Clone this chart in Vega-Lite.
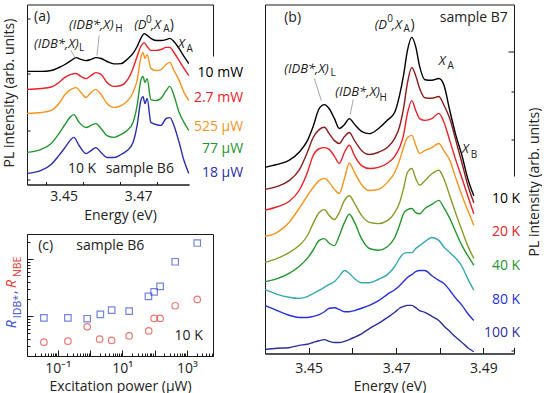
{
"$schema":"https://vega.github.io/schema/vega-lite/v6.json",
"autosize":{"type":"pad"},
"padding":{"left":1,"top":3.5,"right":0,"bottom":0},
"background":"white",
"config":{
 "font":"Open Sans",
 "view":{"stroke":"#1a1a1a","strokeWidth":1},
 "axis":{"grid":false,"domainColor":"#1a1a1a","tickColor":"#1a1a1a","domainWidth":1,"tickWidth":1,"labelFont":"Open Sans","labelFontSize":14,"labelColor":"#222","titleFont":"Open Sans","titleFontSize":14,"titleFontWeight":"normal","titleColor":"#222","labelOverlap":false,"labelFlush":false},
 "text":{"font":"Open Sans","fontSize":14,"color":"#222"}
},
"datasets":{
"aCurves":[
{"P":"10 mW","E":3.44,"I":3.77},{"P":"10 mW","E":3.4438,"I":3.77},{"P":"10 mW","E":3.4465,"I":3.8},{"P":"10 mW","E":3.4486,"I":3.9},{"P":"10 mW","E":3.4502,"I":4.0},{"P":"10 mW","E":3.4518,"I":4.13},{"P":"10 mW","E":3.4532,"I":4.23},{"P":"10 mW","E":3.4545,"I":4.17},{"P":"10 mW","E":3.4559,"I":4.13},{"P":"10 mW","E":3.4572,"I":4.17},{"P":"10 mW","E":3.4585,"I":4.23},{"P":"10 mW","E":3.4599,"I":4.2},{"P":"10 mW","E":3.4615,"I":4.1},{"P":"10 mW","E":3.4634,"I":4.02},{"P":"10 mW","E":3.4653,"I":4.03},{"P":"10 mW","E":3.4669,"I":4.17},{"P":"10 mW","E":3.4685,"I":4.37},{"P":"10 mW","E":3.4696,"I":4.6},{"P":"10 mW","E":3.4706,"I":4.87},{"P":"10 mW","E":3.4715,"I":5.03},{"P":"10 mW","E":3.4723,"I":4.97},{"P":"10 mW","E":3.4733,"I":4.87},{"P":"10 mW","E":3.4747,"I":4.8},{"P":"10 mW","E":3.476,"I":4.8},{"P":"10 mW","E":3.4774,"I":4.83},{"P":"10 mW","E":3.4784,"I":4.87},{"P":"10 mW","E":3.4795,"I":4.77},{"P":"10 mW","E":3.4809,"I":4.53},{"P":"10 mW","E":3.4822,"I":4.27},{"P":"10 mW","E":3.4835,"I":4.03},
{"P":"2.7 mW","E":3.44,"I":3.17},{"P":"2.7 mW","E":3.4438,"I":3.2},{"P":"2.7 mW","E":3.4465,"I":3.25},{"P":"2.7 mW","E":3.4486,"I":3.4},{"P":"2.7 mW","E":3.4502,"I":3.57},{"P":"2.7 mW","E":3.4518,"I":3.67},{"P":"2.7 mW","E":3.4532,"I":3.7},{"P":"2.7 mW","E":3.4545,"I":3.6},{"P":"2.7 mW","E":3.4559,"I":3.53},{"P":"2.7 mW","E":3.4572,"I":3.63},{"P":"2.7 mW","E":3.4585,"I":3.73},{"P":"2.7 mW","E":3.4599,"I":3.67},{"P":"2.7 mW","E":3.4615,"I":3.4},{"P":"2.7 mW","E":3.4634,"I":3.27},{"P":"2.7 mW","E":3.4653,"I":3.3},{"P":"2.7 mW","E":3.4669,"I":3.47},{"P":"2.7 mW","E":3.4685,"I":3.87},{"P":"2.7 mW","E":3.4696,"I":4.27},{"P":"2.7 mW","E":3.4706,"I":4.6},{"P":"2.7 mW","E":3.4715,"I":4.73},{"P":"2.7 mW","E":3.4723,"I":4.6},{"P":"2.7 mW","E":3.4733,"I":4.47},{"P":"2.7 mW","E":3.4747,"I":4.47},{"P":"2.7 mW","E":3.476,"I":4.5},{"P":"2.7 mW","E":3.4774,"I":4.57},{"P":"2.7 mW","E":3.4784,"I":4.57},{"P":"2.7 mW","E":3.4795,"I":4.4},{"P":"2.7 mW","E":3.4809,"I":4.13},{"P":"2.7 mW","E":3.4822,"I":3.87},{"P":"2.7 mW","E":3.4835,"I":3.63},
{"P":"525 µW","E":3.44,"I":2.37},{"P":"525 µW","E":3.4438,"I":2.4},{"P":"525 µW","E":3.4465,"I":2.47},{"P":"525 µW","E":3.4486,"I":2.7},{"P":"525 µW","E":3.4502,"I":3.0},{"P":"525 µW","E":3.4518,"I":3.17},{"P":"525 µW","E":3.4532,"I":3.23},{"P":"525 µW","E":3.4545,"I":3.07},{"P":"525 µW","E":3.4559,"I":2.9},{"P":"525 µW","E":3.4572,"I":3.07},{"P":"525 µW","E":3.4585,"I":3.17},{"P":"525 µW","E":3.4599,"I":3.0},{"P":"525 µW","E":3.4615,"I":2.7},{"P":"525 µW","E":3.4634,"I":2.57},{"P":"525 µW","E":3.4653,"I":2.63},{"P":"525 µW","E":3.4669,"I":2.77},{"P":"525 µW","E":3.4685,"I":3.07},{"P":"525 µW","E":3.4696,"I":3.47},{"P":"525 µW","E":3.4706,"I":4.23},{"P":"525 µW","E":3.4712,"I":4.4},{"P":"525 µW","E":3.4717,"I":4.2},{"P":"525 µW","E":3.4723,"I":4.33},{"P":"525 µW","E":3.4733,"I":3.87},{"P":"525 µW","E":3.4747,"I":3.8},{"P":"525 µW","E":3.476,"I":3.83},{"P":"525 µW","E":3.4774,"I":4.0},{"P":"525 µW","E":3.4784,"I":4.07},{"P":"525 µW","E":3.4795,"I":3.8},{"P":"525 µW","E":3.4809,"I":3.47},{"P":"525 µW","E":3.4822,"I":3.07},{"P":"525 µW","E":3.4835,"I":2.8},
{"P":"77 µW","E":3.44,"I":1.07},{"P":"77 µW","E":3.4438,"I":1.17},{"P":"77 µW","E":3.4465,"I":1.37},{"P":"77 µW","E":3.4486,"I":1.7},{"P":"77 µW","E":3.4502,"I":2.0},{"P":"77 µW","E":3.4518,"I":2.27},{"P":"77 µW","E":3.4526,"I":2.33},{"P":"77 µW","E":3.454,"I":2.07},{"P":"77 µW","E":3.4559,"I":1.9},{"P":"77 µW","E":3.4572,"I":1.97},{"P":"77 µW","E":3.4585,"I":2.03},{"P":"77 µW","E":3.4599,"I":1.87},{"P":"77 µW","E":3.4615,"I":1.63},{"P":"77 µW","E":3.4634,"I":1.57},{"P":"77 µW","E":3.4653,"I":1.67},{"P":"77 µW","E":3.4669,"I":1.8},{"P":"77 µW","E":3.4685,"I":2.07},{"P":"77 µW","E":3.4696,"I":2.63},{"P":"77 µW","E":3.4706,"I":3.47},{"P":"77 µW","E":3.4712,"I":3.6},{"P":"77 µW","E":3.4717,"I":3.4},{"P":"77 µW","E":3.4723,"I":3.53},{"P":"77 µW","E":3.4733,"I":2.83},{"P":"77 µW","E":3.4747,"I":2.8},{"P":"77 µW","E":3.476,"I":2.87},{"P":"77 µW","E":3.4774,"I":3.13},{"P":"77 µW","E":3.4784,"I":3.27},{"P":"77 µW","E":3.4795,"I":2.97},{"P":"77 µW","E":3.4809,"I":2.4},{"P":"77 µW","E":3.4822,"I":2.07},{"P":"77 µW","E":3.4835,"I":1.8},
{"P":"18 µW","E":3.44,"I":0.37},{"P":"18 µW","E":3.4438,"I":0.47},{"P":"18 µW","E":3.4465,"I":0.67},{"P":"18 µW","E":3.4486,"I":0.97},{"P":"18 µW","E":3.4502,"I":1.23},{"P":"18 µW","E":3.4518,"I":1.5},{"P":"18 µW","E":3.4526,"I":1.57},{"P":"18 µW","E":3.454,"I":1.3},{"P":"18 µW","E":3.4559,"I":1.03},{"P":"18 µW","E":3.4572,"I":1.13},{"P":"18 µW","E":3.4585,"I":1.23},{"P":"18 µW","E":3.4599,"I":1.07},{"P":"18 µW","E":3.4615,"I":0.9},{"P":"18 µW","E":3.4634,"I":0.9},{"P":"18 µW","E":3.4653,"I":1.0},{"P":"18 µW","E":3.4669,"I":1.13},{"P":"18 µW","E":3.4685,"I":1.4},{"P":"18 µW","E":3.4696,"I":1.97},{"P":"18 µW","E":3.4706,"I":2.8},{"P":"18 µW","E":3.4712,"I":2.93},{"P":"18 µW","E":3.4717,"I":2.7},{"P":"18 µW","E":3.4723,"I":2.87},{"P":"18 µW","E":3.4733,"I":2.07},{"P":"18 µW","E":3.4747,"I":2.0},{"P":"18 µW","E":3.476,"I":1.97},{"P":"18 µW","E":3.4774,"I":2.2},{"P":"18 µW","E":3.4784,"I":2.23},{"P":"18 µW","E":3.4795,"I":1.97},{"P":"18 µW","E":3.4809,"I":1.4},{"P":"18 µW","E":3.4822,"I":0.8},{"P":"18 µW","E":3.4835,"I":0.37}
],
"bCurves":[
{"T":"10 K","E":3.44,"I":3.21},{"T":"10 K","E":3.4428,"I":3.26},{"T":"10 K","E":3.4455,"I":3.33},{"T":"10 K","E":3.4478,"I":3.47},{"T":"10 K","E":3.4497,"I":3.67},{"T":"10 K","E":3.451,"I":3.91},{"T":"10 K","E":3.4524,"I":4.22},{"T":"10 K","E":3.4536,"I":4.29},{"T":"10 K","E":3.4547,"I":4.22},{"T":"10 K","E":3.4559,"I":4.05},{"T":"10 K","E":3.457,"I":3.88},{"T":"10 K","E":3.4582,"I":3.95},{"T":"10 K","E":3.4593,"I":4.05},{"T":"10 K","E":3.4605,"I":3.95},{"T":"10 K","E":3.4621,"I":3.83},{"T":"10 K","E":3.4639,"I":3.79},{"T":"10 K","E":3.466,"I":3.88},{"T":"10 K","E":3.468,"I":4.02},{"T":"10 K","E":3.4697,"I":4.16},{"T":"10 K","E":3.4708,"I":4.45},{"T":"10 K","E":3.4717,"I":4.79},{"T":"10 K","E":3.4726,"I":5.22},{"T":"10 K","E":3.4736,"I":5.45},{"T":"10 K","E":3.4745,"I":5.29},{"T":"10 K","E":3.4754,"I":4.95},{"T":"10 K","E":3.4766,"I":4.72},{"T":"10 K","E":3.4782,"I":4.71},{"T":"10 K","E":3.4798,"I":4.74},{"T":"10 K","E":3.4809,"I":4.64},{"T":"10 K","E":3.4823,"I":4.19},{"T":"10 K","E":3.4837,"I":3.76},{"T":"10 K","E":3.4851,"I":3.41},{"T":"10 K","E":3.4864,"I":3.02},{"T":"10 K","E":3.4878,"I":2.72},
{"T":"15 K","E":3.44,"I":2.83},{"T":"15 K","E":3.4428,"I":2.88},{"T":"15 K","E":3.4455,"I":2.98},{"T":"15 K","E":3.4478,"I":3.16},{"T":"15 K","E":3.4497,"I":3.47},{"T":"15 K","E":3.451,"I":3.72},{"T":"15 K","E":3.4524,"I":3.86},{"T":"15 K","E":3.4536,"I":3.9},{"T":"15 K","E":3.4547,"I":3.79},{"T":"15 K","E":3.4559,"I":3.67},{"T":"15 K","E":3.457,"I":3.62},{"T":"15 K","E":3.4582,"I":3.74},{"T":"15 K","E":3.4593,"I":3.81},{"T":"15 K","E":3.4605,"I":3.67},{"T":"15 K","E":3.4621,"I":3.5},{"T":"15 K","E":3.4639,"I":3.43},{"T":"15 K","E":3.466,"I":3.47},{"T":"15 K","E":3.468,"I":3.55},{"T":"15 K","E":3.4697,"I":3.71},{"T":"15 K","E":3.4708,"I":3.91},{"T":"15 K","E":3.4717,"I":4.22},{"T":"15 K","E":3.4726,"I":4.66},{"T":"15 K","E":3.4736,"I":4.93},{"T":"15 K","E":3.4745,"I":4.79},{"T":"15 K","E":3.4754,"I":4.57},{"T":"15 K","E":3.4766,"I":4.41},{"T":"15 K","E":3.4782,"I":4.4},{"T":"15 K","E":3.4798,"I":4.43},{"T":"15 K","E":3.4809,"I":4.29},{"T":"15 K","E":3.4823,"I":4.05},{"T":"15 K","E":3.4837,"I":3.67},{"T":"15 K","E":3.4851,"I":3.28},{"T":"15 K","E":3.4864,"I":2.91},{"T":"15 K","E":3.4878,"I":2.6},
{"T":"20 K","E":3.44,"I":2.47},{"T":"20 K","E":3.4428,"I":2.53},{"T":"20 K","E":3.4455,"I":2.62},{"T":"20 K","E":3.4478,"I":2.81},{"T":"20 K","E":3.4497,"I":3.12},{"T":"20 K","E":3.451,"I":3.41},{"T":"20 K","E":3.4524,"I":3.53},{"T":"20 K","E":3.4536,"I":3.55},{"T":"20 K","E":3.4547,"I":3.52},{"T":"20 K","E":3.4559,"I":3.4},{"T":"20 K","E":3.457,"I":3.28},{"T":"20 K","E":3.4582,"I":3.47},{"T":"20 K","E":3.4593,"I":3.59},{"T":"20 K","E":3.4605,"I":3.41},{"T":"20 K","E":3.4621,"I":3.24},{"T":"20 K","E":3.4639,"I":3.19},{"T":"20 K","E":3.466,"I":3.21},{"T":"20 K","E":3.468,"I":3.28},{"T":"20 K","E":3.4697,"I":3.4},{"T":"20 K","E":3.4708,"I":3.55},{"T":"20 K","E":3.4717,"I":3.76},{"T":"20 K","E":3.4726,"I":4.14},{"T":"20 K","E":3.4736,"I":4.36},{"T":"20 K","E":3.4745,"I":4.19},{"T":"20 K","E":3.4754,"I":4.05},{"T":"20 K","E":3.4766,"I":4.02},{"T":"20 K","E":3.4782,"I":4.05},{"T":"20 K","E":3.4798,"I":4.14},{"T":"20 K","E":3.4809,"I":4.0},{"T":"20 K","E":3.4823,"I":3.67},{"T":"20 K","E":3.4837,"I":3.33},{"T":"20 K","E":3.4851,"I":3.02},{"T":"20 K","E":3.4864,"I":2.72},{"T":"20 K","E":3.4878,"I":2.41},
{"T":"30 K","E":3.44,"I":2.02},{"T":"30 K","E":3.4428,"I":2.09},{"T":"30 K","E":3.4455,"I":2.26},{"T":"30 K","E":3.4478,"I":2.5},{"T":"30 K","E":3.4497,"I":2.72},{"T":"30 K","E":3.451,"I":2.86},{"T":"30 K","E":3.4524,"I":2.98},{"T":"30 K","E":3.4536,"I":3.02},{"T":"30 K","E":3.4547,"I":2.95},{"T":"30 K","E":3.4559,"I":2.83},{"T":"30 K","E":3.457,"I":2.76},{"T":"30 K","E":3.4582,"I":3.02},{"T":"30 K","E":3.4593,"I":3.28},{"T":"30 K","E":3.4605,"I":3.12},{"T":"30 K","E":3.4621,"I":2.91},{"T":"30 K","E":3.4639,"I":2.81},{"T":"30 K","E":3.466,"I":2.83},{"T":"30 K","E":3.468,"I":2.95},{"T":"30 K","E":3.4697,"I":3.12},{"T":"30 K","E":3.4708,"I":3.33},{"T":"30 K","E":3.4717,"I":3.55},{"T":"30 K","E":3.4726,"I":3.72},{"T":"30 K","E":3.4736,"I":3.76},{"T":"30 K","E":3.4745,"I":3.59},{"T":"30 K","E":3.4754,"I":3.45},{"T":"30 K","E":3.4766,"I":3.5},{"T":"30 K","E":3.4782,"I":3.55},{"T":"30 K","E":3.4798,"I":3.62},{"T":"30 K","E":3.4809,"I":3.5},{"T":"30 K","E":3.4823,"I":3.33},{"T":"30 K","E":3.4837,"I":3.02},{"T":"30 K","E":3.4851,"I":2.72},{"T":"30 K","E":3.4864,"I":2.47},{"T":"30 K","E":3.4878,"I":2.21},
{"T":"35 K","E":3.44,"I":1.57},{"T":"35 K","E":3.4428,"I":1.64},{"T":"35 K","E":3.4455,"I":1.74},{"T":"35 K","E":3.4478,"I":1.86},{"T":"35 K","E":3.4497,"I":2.03},{"T":"35 K","E":3.451,"I":2.24},{"T":"35 K","E":3.4524,"I":2.43},{"T":"35 K","E":3.4536,"I":2.48},{"T":"35 K","E":3.4547,"I":2.38},{"T":"35 K","E":3.4559,"I":2.31},{"T":"35 K","E":3.457,"I":2.43},{"T":"35 K","E":3.4582,"I":2.64},{"T":"35 K","E":3.4593,"I":2.72},{"T":"35 K","E":3.4605,"I":2.59},{"T":"35 K","E":3.4621,"I":2.38},{"T":"35 K","E":3.4639,"I":2.26},{"T":"35 K","E":3.466,"I":2.24},{"T":"35 K","E":3.468,"I":2.29},{"T":"35 K","E":3.4697,"I":2.43},{"T":"35 K","E":3.4708,"I":2.6},{"T":"35 K","E":3.4717,"I":2.84},{"T":"35 K","E":3.4726,"I":3.12},{"T":"35 K","E":3.4736,"I":3.19},{"T":"35 K","E":3.4745,"I":3.02},{"T":"35 K","E":3.4754,"I":2.9},{"T":"35 K","E":3.4766,"I":2.98},{"T":"35 K","E":3.4782,"I":3.1},{"T":"35 K","E":3.4798,"I":3.16},{"T":"35 K","E":3.4809,"I":3.02},{"T":"35 K","E":3.4823,"I":2.72},{"T":"35 K","E":3.4837,"I":2.41},{"T":"35 K","E":3.4851,"I":2.12},{"T":"35 K","E":3.4864,"I":1.86},{"T":"35 K","E":3.4878,"I":1.64},
{"T":"40 K","E":3.44,"I":1.24},{"T":"40 K","E":3.4428,"I":1.29},{"T":"40 K","E":3.4455,"I":1.38},{"T":"40 K","E":3.4478,"I":1.5},{"T":"40 K","E":3.4497,"I":1.64},{"T":"40 K","E":3.451,"I":1.78},{"T":"40 K","E":3.4524,"I":1.95},{"T":"40 K","E":3.4536,"I":1.98},{"T":"40 K","E":3.4547,"I":1.9},{"T":"40 K","E":3.4559,"I":1.86},{"T":"40 K","E":3.457,"I":2.03},{"T":"40 K","E":3.4582,"I":2.26},{"T":"40 K","E":3.4593,"I":2.4},{"T":"40 K","E":3.4605,"I":2.26},{"T":"40 K","E":3.4621,"I":1.98},{"T":"40 K","E":3.4639,"I":1.81},{"T":"40 K","E":3.466,"I":1.78},{"T":"40 K","E":3.468,"I":1.84},{"T":"40 K","E":3.4697,"I":2.0},{"T":"40 K","E":3.4708,"I":2.21},{"T":"40 K","E":3.4717,"I":2.41},{"T":"40 K","E":3.4726,"I":2.48},{"T":"40 K","E":3.4736,"I":2.5},{"T":"40 K","E":3.4745,"I":2.43},{"T":"40 K","E":3.4754,"I":2.41},{"T":"40 K","E":3.4766,"I":2.5},{"T":"40 K","E":3.4782,"I":2.57},{"T":"40 K","E":3.4798,"I":2.64},{"T":"40 K","E":3.4809,"I":2.52},{"T":"40 K","E":3.4823,"I":2.33},{"T":"40 K","E":3.4837,"I":2.09},{"T":"40 K","E":3.4851,"I":1.86},{"T":"40 K","E":3.4864,"I":1.69},{"T":"40 K","E":3.4878,"I":1.52},
{"T":"60 K","E":3.44,"I":1.1},{"T":"60 K","E":3.4428,"I":1.02},{"T":"60 K","E":3.4455,"I":0.97},{"T":"60 K","E":3.4478,"I":0.95},{"T":"60 K","E":3.4497,"I":0.98},{"T":"60 K","E":3.451,"I":1.03},{"T":"60 K","E":3.4524,"I":1.09},{"T":"60 K","E":3.4536,"I":1.14},{"T":"60 K","E":3.4547,"I":1.19},{"T":"60 K","E":3.4559,"I":1.24},{"T":"60 K","E":3.457,"I":1.33},{"T":"60 K","E":3.4582,"I":1.43},{"T":"60 K","E":3.4593,"I":1.38},{"T":"60 K","E":3.4605,"I":1.29},{"T":"60 K","E":3.4621,"I":1.22},{"T":"60 K","E":3.4639,"I":1.22},{"T":"60 K","E":3.466,"I":1.28},{"T":"60 K","E":3.468,"I":1.36},{"T":"60 K","E":3.4697,"I":1.5},{"T":"60 K","E":3.4708,"I":1.64},{"T":"60 K","E":3.4717,"I":1.72},{"T":"60 K","E":3.4726,"I":1.74},{"T":"60 K","E":3.4736,"I":1.74},{"T":"60 K","E":3.4745,"I":1.81},{"T":"60 K","E":3.4754,"I":1.86},{"T":"60 K","E":3.4766,"I":1.93},{"T":"60 K","E":3.4782,"I":2.0},{"T":"60 K","E":3.4798,"I":1.95},{"T":"60 K","E":3.4809,"I":1.84},{"T":"60 K","E":3.4823,"I":1.74},{"T":"60 K","E":3.4837,"I":1.64},{"T":"60 K","E":3.4851,"I":1.5},{"T":"60 K","E":3.4864,"I":1.29},{"T":"60 K","E":3.4878,"I":1.09},
{"T":"80 K","E":3.44,"I":0.83},{"T":"80 K","E":3.4428,"I":0.74},{"T":"80 K","E":3.4455,"I":0.66},{"T":"80 K","E":3.4478,"I":0.62},{"T":"80 K","E":3.4497,"I":0.62},{"T":"80 K","E":3.451,"I":0.64},{"T":"80 K","E":3.4524,"I":0.67},{"T":"80 K","E":3.4536,"I":0.72},{"T":"80 K","E":3.4547,"I":0.78},{"T":"80 K","E":3.4559,"I":0.79},{"T":"80 K","E":3.457,"I":0.76},{"T":"80 K","E":3.4582,"I":0.72},{"T":"80 K","E":3.4593,"I":0.72},{"T":"80 K","E":3.4605,"I":0.74},{"T":"80 K","E":3.4621,"I":0.78},{"T":"80 K","E":3.4639,"I":0.83},{"T":"80 K","E":3.466,"I":0.91},{"T":"80 K","E":3.468,"I":1.02},{"T":"80 K","E":3.4697,"I":1.1},{"T":"80 K","E":3.4708,"I":1.17},{"T":"80 K","E":3.4717,"I":1.24},{"T":"80 K","E":3.4726,"I":1.31},{"T":"80 K","E":3.4736,"I":1.36},{"T":"80 K","E":3.4745,"I":1.41},{"T":"80 K","E":3.4754,"I":1.43},{"T":"80 K","E":3.4766,"I":1.43},{"T":"80 K","E":3.4782,"I":1.34},{"T":"80 K","E":3.4798,"I":1.26},{"T":"80 K","E":3.4809,"I":1.21},{"T":"80 K","E":3.4823,"I":1.09},{"T":"80 K","E":3.4837,"I":0.95},{"T":"80 K","E":3.4851,"I":0.83},{"T":"80 K","E":3.4864,"I":0.69},{"T":"80 K","E":3.4878,"I":0.57},
{"T":"100 K","E":3.44,"I":0.07},{"T":"100 K","E":3.4428,"I":0.09},{"T":"100 K","E":3.4455,"I":0.1},{"T":"100 K","E":3.4478,"I":0.14},{"T":"100 K","E":3.4497,"I":0.16},{"T":"100 K","E":3.451,"I":0.19},{"T":"100 K","E":3.4524,"I":0.22},{"T":"100 K","E":3.4536,"I":0.24},{"T":"100 K","E":3.4547,"I":0.21},{"T":"100 K","E":3.4559,"I":0.19},{"T":"100 K","E":3.457,"I":0.19},{"T":"100 K","E":3.4582,"I":0.21},{"T":"100 K","E":3.4593,"I":0.24},{"T":"100 K","E":3.4605,"I":0.28},{"T":"100 K","E":3.4621,"I":0.34},{"T":"100 K","E":3.4639,"I":0.43},{"T":"100 K","E":3.466,"I":0.52},{"T":"100 K","E":3.468,"I":0.62},{"T":"100 K","E":3.4697,"I":0.71},{"T":"100 K","E":3.4708,"I":0.78},{"T":"100 K","E":3.4717,"I":0.81},{"T":"100 K","E":3.4726,"I":0.83},{"T":"100 K","E":3.4736,"I":0.83},{"T":"100 K","E":3.4745,"I":0.79},{"T":"100 K","E":3.4754,"I":0.74},{"T":"100 K","E":3.4766,"I":0.71},{"T":"100 K","E":3.4782,"I":0.64},{"T":"100 K","E":3.4798,"I":0.57},{"T":"100 K","E":3.4809,"I":0.48},{"T":"100 K","E":3.4823,"I":0.38},{"T":"100 K","E":3.4837,"I":0.28},{"T":"100 K","E":3.4851,"I":0.19},{"T":"100 K","E":3.4864,"I":0.1},{"T":"100 K","E":3.4878,"I":0.03}
],
"cPts":[
{"S":"IDB","P":0.0373,"R":0.93},{"S":"IDB","P":0.207,"R":0.93},{"S":"IDB","P":0.82,"R":0.9},{"S":"IDB","P":2.09,"R":1.07},{"S":"IDB","P":4.7,"R":1.27},{"S":"IDB","P":16.3,"R":1.22},{"S":"IDB","P":64.6,"R":2.22},{"S":"IDB","P":97,"R":2.67},{"S":"IDB","P":149,"R":3.32},{"S":"IDB","P":436,"R":8.97},{"S":"IDB","P":2100,"R":19.1},
{"S":"NBE","P":0.0373,"R":0.35},{"S":"NBE","P":0.207,"R":0.364},{"S":"NBE","P":0.82,"R":0.65},{"S":"NBE","P":1.99,"R":0.395},{"S":"NBE","P":4.7,"R":0.375},{"S":"NBE","P":16.3,"R":0.45},{"S":"NBE","P":66,"R":0.55},{"S":"NBE","P":97,"R":0.91},{"S":"NBE","P":149,"R":0.91},{"S":"NBE","P":436,"R":1.52},{"S":"NBE","P":2100,"R":1.96}
]
},
"spacing":17,
"resolve":{"scale":{"color":"independent","shape":"independent"}},
"hconcat":[
{"spacing":9.5,
 "resolve":{"scale":{"color":"independent","shape":"independent"}},
 "vconcat":[
 {"width":186,"height":180,
  "layer":[
   {"data":{"name":"aCurves"},
    "mark":{"type":"line","strokeWidth":1.4,"interpolate":"monotone"},
    "encoding":{
     "x":{"field":"E","type":"quantitative","scale":{"domain":[3.44,3.49],"nice":false,"zero":false},
      "axis":{"title":"Energy (eV)","values":[3.445,3.45,3.455,3.46,3.465,3.47,3.475,3.48,3.485],
       "labels":false,
       "tickSize":{"condition":{"test":"abs(datum.value*100-round(datum.value*100))<0.01","value":-6},"value":-3},
       "titleY":31,"titleBaseline":"middle"}},
     "y":{"field":"I","type":"quantitative","scale":{"domain":[0,6],"nice":false,"zero":false},
      "axis":{"title":"PL intensity (arb. units)","labels":false,
       "values":[0.151,0.327,0.452,0.549,0.628,0.695,0.753,0.804,0.85,1.151,1.327,1.452,1.549,1.628,1.695,1.753,1.804,1.85,2.151,2.327,2.452,2.549,2.628,2.695,2.753,2.804,2.85,3.151,3.327,3.452,3.549,3.628,3.695,3.753,3.804,3.85,4.151,4.327,4.452,4.549,4.628,4.695,4.753,4.804,4.85,5.151,5.327,5.452,5.549,5.628,5.695,5.753,5.804,5.85],
       "tickSize":{"condition":{"test":"abs(datum.value-0.85-round(datum.value-0.85))<0.01","value":-6},"value":-3},
       "titleAngle":270,"titleX":-18,"titleY":88,"titleAlign":"center","titleBaseline":"middle"}},
     "color":{"field":"P","type":"nominal","scale":{"domain":["10 mW","2.7 mW","525 µW","77 µW","18 µW"],"range":["#000000","#ec2027","#f7941d","#23962e","#2a2fae"]},"legend":null}
    }},
   {"data":{"values":[{"E":3.4837,"E2":3.4915,"I":-0.25,"I2":4.27}]},
    "mark":{"type":"rect","color":"white"},
    "encoding":{"x":{"field":"E","type":"quantitative"},"x2":{"field":"E2"},"y":{"field":"I","type":"quantitative"},"y2":{"field":"I2"}}},
   {"data":{"values":[{"E":3.45,"I":-0.43,"t":"3.45"},{"E":3.47,"I":-0.43,"t":"3.47"}]},
    "mark":{"type":"text","align":"center","baseline":"middle","fontSize":14,"color":"#222"},
    "encoding":{"x":{"field":"E","type":"quantitative"},"y":{"field":"I","type":"quantitative"},"text":{"field":"t"}}},
   {"data":{"values":[{"E":3.4981,"I":3.73,"P":"10 mW"},{"E":3.4981,"I":2.87,"P":"2.7 mW"},{"E":3.4981,"I":1.93,"P":"525 µW"},{"E":3.4981,"I":1.17,"P":"77 µW"},{"E":3.4981,"I":0.37,"P":"18 µW"}]},
    "mark":{"type":"text","align":"right","baseline":"middle","fontSize":14},
    "encoding":{"x":{"field":"E","type":"quantitative"},"y":{"field":"I","type":"quantitative"},"text":{"field":"P"},
     "color":{"field":"P","type":"nominal","scale":{"domain":["10 mW","2.7 mW","525 µW","77 µW","18 µW"],"range":["#000000","#ec2027","#f7941d","#23962e","#2a2fae"]},"legend":null}}},
   {"data":{"values":[{"E":3.4419,"I":5.6,"t":"(a)"},{"E":3.451,"I":0.53,"t":"10 K"},{"E":3.4612,"I":0.53,"t":"sample B6"},{"E":3.4784,"I":5.33,"t":")"}]},
    "mark":{"type":"text","align":"left","baseline":"middle","fontSize":14,"color":"#222"},
    "encoding":{"x":{"field":"E","type":"quantitative"},"y":{"field":"I","type":"quantitative"},"text":{"field":"t"}}},
   {"data":{"values":[{"E":3.4419,"I":4.7,"t":"(IDB*,X)"},{"E":3.4513,"I":5.33,"t":"(IDB*,X)"},{"E":3.4688,"I":5.33,"t":"(D"},{"E":3.4733,"I":5.33,"t":",X"},{"E":3.4806,"I":4.7,"t":"X"}]},
    "mark":{"type":"text","align":"left","baseline":"middle","fontSize":13,"fontStyle":"italic","color":"#222"},
    "encoding":{"x":{"field":"E","type":"quantitative"},"y":{"field":"I","type":"quantitative"},"text":{"field":"t"}}},
   {"data":{"values":[{"E":3.454,"I":4.55,"t":"L"},{"E":3.4637,"I":5.17,"t":"H"},{"E":3.4766,"I":5.17,"t":"A"},{"E":3.4829,"I":4.53,"t":"A"},{"E":3.472,"I":5.5,"t":"0"}]},
    "mark":{"type":"text","align":"left","baseline":"middle","fontSize":10,"color":"#222"},
    "encoding":{"x":{"field":"E","type":"quantitative"},"y":{"field":"I","type":"quantitative"},"text":{"field":"t"}}},
   {"data":{"values":[{"E":3.4518,"I":4.47,"E2":3.4529,"I2":4.23},{"E":3.4594,"I":4.97,"E2":3.4588,"I2":4.3}]},
    "mark":{"type":"rule","color":"#a6a6a6","strokeWidth":1},
    "encoding":{"x":{"field":"E","type":"quantitative"},"y":{"field":"I","type":"quantitative"},"x2":{"field":"E2"},"y2":{"field":"I2"}}}
  ]},
 {"width":186,"height":122,
  "layer":[
   {"data":{"name":"cPts"},
    "mark":{"type":"point","filled":false,"strokeWidth":1.2,"size":42},
    "encoding":{
     "x":{"field":"P","type":"quantitative","scale":{"type":"log","domain":[0.0112,6460],"nice":false},
      "axis":{"title":"Excitation power (µW)",
       "values":[0.02,0.03,0.04,0.05,0.06,0.07,0.08,0.09,0.1,0.2,0.3,0.4,0.5,0.6,0.7,0.8,0.9,1,2,3,4,5,6,7,8,9,10,20,30,40,50,60,70,80,90,100,200,300,400,500,600,700,800,900,1000,2000,3000,4000,5000,6000],
       "labelExpr":"datum.value == 0.1 ? '10⁻¹' : datum.value == 10 ? '10¹' : datum.value == 1000 ? '10³' : ''",
       "tickSize":{"condition":{"test":"abs(log(datum.value)/LN10-round(log(datum.value)/LN10))<0.001","value":-6},"value":-3},
       "labelPadding":11,"titleY":30,"titleBaseline":"middle"}},
     "y":{"field":"R","type":"quantitative","scale":{"type":"log","domain":[0.2,27.5],"nice":false},
      "axis":{"title":"R","titleOpacity":0,"labels":false,
       "values":[0.2,0.3,0.4,0.5,0.6,0.7,0.8,0.9,1,2,3,4,5,6,7,8,9,10,20],
       "tickSize":{"condition":{"test":"abs(log(datum.value)/LN10-round(log(datum.value)/LN10))<0.001","value":-6},"value":-3},
       "titleAngle":270,"titleX":-18,"titleY":61,"titleAlign":"center","titleBaseline":"middle"}},
     "color":{"field":"S","type":"nominal","scale":{"domain":["IDB","NBE"],"range":["#3a4fd6","#e5413b"]},"legend":null},
     "shape":{"field":"S","type":"nominal","scale":{"domain":["IDB","NBE"],"range":["square","circle"]},"legend":null}
    }},
   {"data":{"values":[{"P":0.0248,"R":16.9,"t":"(c)"},{"P":0.376,"R":16.9,"t":"sample B6"},{"P":415,"R":0.446,"t":"10 K"}]},
    "mark":{"type":"text","align":"left","baseline":"middle","fontSize":14,"color":"#222"},
    "encoding":{"x":{"field":"P","type":"quantitative"},"y":{"field":"R","type":"quantitative"},"text":{"field":"t"}}},
   {"data":{"values":[{"S":"IDB","P":0.0051,"R":0.616,"t":"R"},{"S":"NBE","P":0.0051,"R":3.1,"t":"R"}]},
    "mark":{"type":"text","align":"left","baseline":"alphabetic","angle":270,"fontSize":14,"fontStyle":"italic"},
    "encoding":{"x":{"field":"P","type":"quantitative"},"y":{"field":"R","type":"quantitative"},"text":{"field":"t"},
     "color":{"field":"S","type":"nominal","scale":{"domain":["IDB","NBE"],"range":["#3a4fd6","#e5413b"]},"legend":null}}},
   {"data":{"values":[{"S":"IDB","P":0.0072,"R":0.922,"t":"IDB*"},{"S":"NBE","P":0.0072,"R":4.83,"t":"NBE"}]},
    "mark":{"type":"text","align":"left","baseline":"alphabetic","angle":270,"fontSize":10.5},
    "encoding":{"x":{"field":"P","type":"quantitative"},"y":{"field":"R","type":"quantitative"},"text":{"field":"t"},
     "color":{"field":"S","type":"nominal","scale":{"domain":["IDB","NBE"],"range":["#3a4fd6","#e5413b"]},"legend":null}}},
   {"data":{"values":[{"S":"IDB","P":0.0051,"R":2.43,"t":","}]},
    "mark":{"type":"text","align":"left","baseline":"alphabetic","angle":270,"fontSize":14},
    "encoding":{"x":{"field":"P","type":"quantitative"},"y":{"field":"R","type":"quantitative"},"text":{"field":"t"},
     "color":{"field":"S","type":"nominal","scale":{"domain":["IDB","NBE"],"range":["#3a4fd6","#e5413b"]},"legend":null}}}
  ]}
 ]},
{"width":249,"height":349,
 "layer":[
  {"data":{"name":"bCurves"},
   "mark":{"type":"line","strokeWidth":1.4,"interpolate":"monotone"},
   "encoding":{
    "x":{"field":"E","type":"quantitative","scale":{"domain":[3.44,3.497],"nice":false,"zero":false},
     "axis":{"title":"Energy (eV)","values":[3.44,3.445,3.45,3.455,3.46,3.465,3.47,3.475,3.48,3.485,3.49,3.495],
      "labelExpr":"abs(datum.value-3.45)<1e-6 || abs(datum.value-3.47)<1e-6 || abs(datum.value-3.49)<1e-6 ? format(datum.value,'.2f') : ''",
      "tickSize":{"condition":{"test":"abs(datum.value*100-round(datum.value*100))<0.01","value":-6},"value":-3},
      "labelPadding":14,"titleY":32.5,"titleBaseline":"middle"}},
    "y":{"field":"I","type":"quantitative","scale":{"domain":[0,6.017],"nice":false,"zero":false},
     "axis":{"orient":"right","title":"PL intensity (arb. units)","labels":false,
      "values":[0.055,0.113,0.164,0.21,0.511,0.687,0.812,0.909,0.988,1.055,1.113,1.164,1.21,1.511,1.687,1.812,1.909,1.988,2.055,2.113,2.164,2.21,2.511,2.687,2.812,2.909,2.988,3.055,3.113,3.164,3.21,3.511,3.687,3.812,3.909,3.988,4.055,4.113,4.164,4.21,4.511,4.687,4.812,4.909,4.988,5.055,5.113,5.164,5.21,5.511,5.687,5.812,5.909,5.988],
      "tickSize":{"condition":{"test":"abs(datum.value-0.21-round(datum.value-0.21))<0.01","value":-6},"value":-3},
      "titleAngle":270,"titleX":20,"titleY":177,"titleAlign":"center","titleBaseline":"middle"}},
    "color":{"field":"T","type":"nominal","scale":{"domain":["10 K","15 K","20 K","30 K","35 K","40 K","60 K","80 K","100 K"],"range":["#000000","#8b1c1c","#ec2027","#f7941d","#8a9a2a","#23962e","#35a8b0","#2630e0","#2b2f9c"]},"legend":null}
   }},
  {"data":{"values":[{"E":3.4897,"E2":3.4993,"I":0.1,"I2":3.05}]},
   "mark":{"type":"rect","color":"white"},
   "encoding":{"x":{"field":"E","type":"quantitative"},"x2":{"field":"E2"},"y":{"field":"I","type":"quantitative"},"y2":{"field":"I2"}}},
  {"data":{"values":[{"E":3.4984,"I":2.67,"T":"10 K"},{"E":3.4984,"I":2.1,"T":"20 K"},{"E":3.4984,"I":1.5,"T":"40 K"},{"E":3.4984,"I":0.93,"T":"80 K"},{"E":3.4984,"I":0.36,"T":"100 K"}]},
   "mark":{"type":"text","align":"right","baseline":"middle","fontSize":14},
   "encoding":{"x":{"field":"E","type":"quantitative"},"y":{"field":"I","type":"quantitative"},"text":{"field":"T"},
    "color":{"field":"T","type":"nominal","scale":{"domain":["10 K","15 K","20 K","30 K","35 K","40 K","60 K","80 K","100 K"],"range":["#000000","#8b1c1c","#ec2027","#f7941d","#8a9a2a","#23962e","#35a8b0","#2630e0","#2b2f9c"]},"legend":null}}},
  {"data":{"values":[{"E":3.4444,"I":5.79,"t":"(b)"},{"E":3.48,"I":5.79,"t":"sample B7"},{"E":3.4733,"I":5.67,"t":")"}]},
   "mark":{"type":"text","align":"left","baseline":"middle","fontSize":14,"color":"#222"},
   "encoding":{"x":{"field":"E","type":"quantitative"},"y":{"field":"I","type":"quantitative"},"text":{"field":"t"}}},
  {"data":{"values":[{"E":3.4444,"I":4.91,"t":"(IDB*,X)"},{"E":3.4561,"I":4.5,"t":"(IDB*,X)"},{"E":3.4651,"I":5.67,"t":"(D"},{"E":3.469,"I":5.67,"t":",X"},{"E":3.4798,"I":5.05,"t":"X"},{"E":3.4851,"I":3.53,"t":"X"}]},
   "mark":{"type":"text","align":"left","baseline":"middle","fontSize":13,"fontStyle":"italic","color":"#222"},
   "encoding":{"x":{"field":"E","type":"quantitative"},"y":{"field":"I","type":"quantitative"},"text":{"field":"t"}}},
  {"data":{"values":[{"E":3.455,"I":4.83,"t":"L"},{"E":3.4662,"I":4.41,"t":"H"},{"E":3.468,"I":5.77,"t":"0"},{"E":3.4717,"I":5.59,"t":"A"},{"E":3.4818,"I":4.95,"t":"A"},{"E":3.4871,"I":3.43,"t":"B"}]},
   "mark":{"type":"text","align":"left","baseline":"middle","fontSize":10,"color":"#222"},
   "encoding":{"x":{"field":"E","type":"quantitative"},"y":{"field":"I","type":"quantitative"},"text":{"field":"t"}}},
  {"data":{"values":[{"E":3.4513,"I":4.74,"E2":3.4529,"I2":4.36},{"E":3.4602,"I":4.38,"E2":3.4595,"I2":4.12}]},
   "mark":{"type":"rule","color":"#a6a6a6","strokeWidth":1},
   "encoding":{"x":{"field":"E","type":"quantitative"},"y":{"field":"I","type":"quantitative"},"x2":{"field":"E2"},"y2":{"field":"I2"}}}
 ]}
]
}
